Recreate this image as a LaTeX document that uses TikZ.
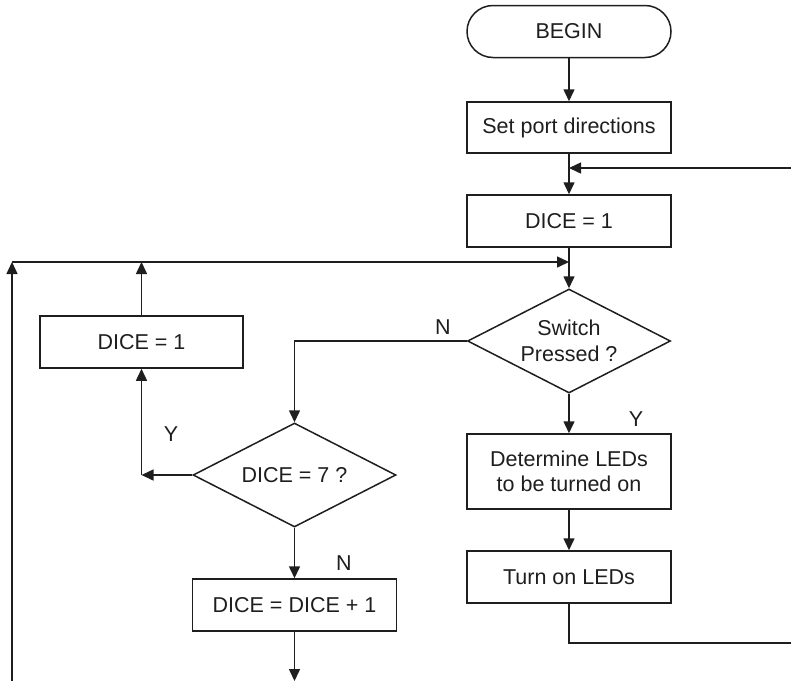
\documentclass[tikz,border=0pt]{standalone}
\usepackage{fontspec}
\setmainfont{Liberation Sans}
\usetikzlibrary{shapes.geometric,arrows.meta}
\definecolor{ink}{HTML}{1E1E1E}
\begin{document}
\begin{tikzpicture}[x=1pt,y=-1pt,
  every node/.style={font=\fontsize{21.5}{25.5}\selectfont, text=ink},
  procbox/.style={draw=ink, line width=1.5pt, rectangle, minimum width=204pt, inner sep=0pt, align=center},
  termbox/.style={draw=ink, line width=1.5pt, rectangle, rounded corners=26pt, minimum width=204pt, minimum height=52pt, inner sep=0pt},
  decbox/.style={draw=ink, line width=1.5pt, diamond, aspect=2, minimum width=203pt, minimum height=104pt, inner sep=0pt, align=center},
  conn/.style={draw=ink, line width=1.5pt},
  arr/.style={conn, -{Triangle[length=12pt,width=11pt]}},
  lbl/.style={inner sep=0pt}
]
\useasboundingbox (0,0) rectangle (791,681);

% nodes
\node[termbox] (begin) at (569,31.5) {BEGIN};
\node[procbox, minimum height=51pt] (setport) at (569,127.5) {Set port directions};
\node[procbox, minimum height=52pt] (dice1) at (569,221) {DICE = 1};
\node[decbox] (switch) at (569,341) {Switch\\Pressed ?};
\node[procbox, minimum height=75pt] (determine) at (569,471.5) {Determine LEDs\\to be turned on};
\node[procbox, minimum height=52pt] (turnon) at (569,577) {Turn on LEDs};
\node[procbox, minimum width=203pt, minimum height=52pt] (diceleft) at (141.5,342) {DICE = 1};
\node[decbox] (dice7) at (294.5,475) {DICE = 7 ?};
\node[procbox, minimum height=52pt] (diceinc) at (294.5,605) {DICE = DICE + 1};

% labels
\node[lbl] (nlab1) at (443,327) {N};
\node[lbl] (ylab1) at (636,419) {Y};
\node[lbl] (ylab2) at (171,434) {Y};
\node[lbl] (nlab2) at (344,563) {N};

% coordinates
\coordinate (rin) at (791,168);
\coordinate (rout) at (791,643);
\coordinate (tcorner) at (569,643);
\coordinate (lbot) at (12,681);
\coordinate (ltop) at (12,262);
\coordinate (lmid) at (141.5,262);
\coordinate (ncorner) at (294.5,341);
\coordinate (ycorner) at (141.5,475);
\coordinate (bend) at (294.5,681);

% connectors
\draw[arr] (begin.south) -- (setport.north);
\draw[arr] (setport.south) -- (dice1.north);
\draw[arr] (rin) -- (setport.south |- rin);
\draw[arr] (dice1.south) -- (switch.north);
\draw[arr] (lbot) -- (ltop);
\draw[arr] (ltop) -- (switch.north |- ltop);
\draw[arr] (diceleft.north) -- (lmid);
\draw[arr] (switch.west) -- (ncorner) -- (dice7.north);
\draw[arr] (switch.south) -- (determine.north);
\draw[arr] (determine.south) -- (turnon.north);
\draw[conn] (turnon.south) -- (tcorner) -- (rout);
\draw[arr] (dice7.west) -- (ycorner);
\draw[arr] (ycorner) -- (diceleft.south);
\draw[arr] (dice7.south) -- (diceinc.north);
\draw[arr] (diceinc.south) -- (bend);
\end{tikzpicture}
\end{document}
